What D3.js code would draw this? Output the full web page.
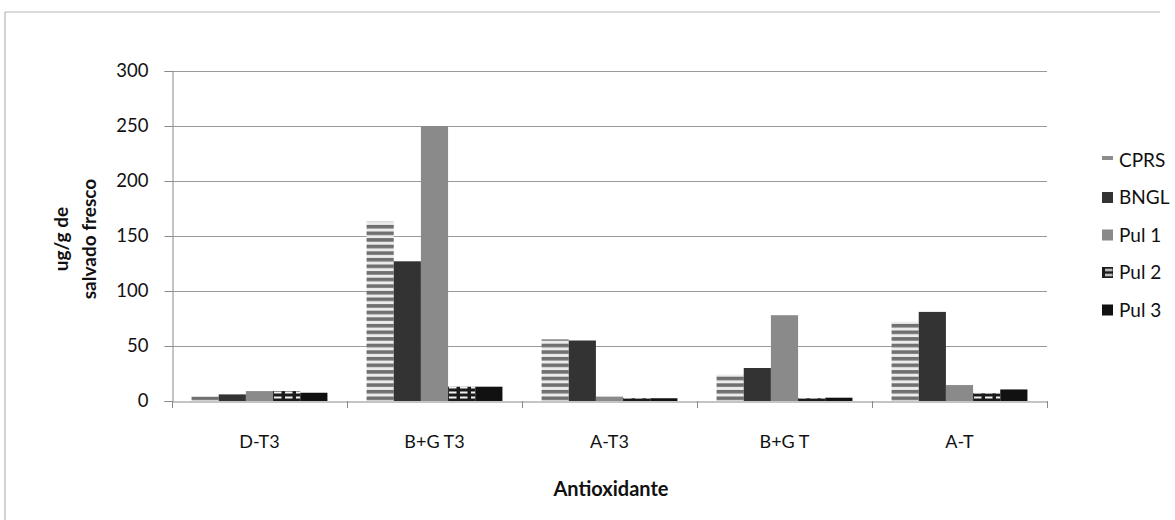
<!DOCTYPE html>
<html>
<head>
<meta charset="utf-8">
<script src="https://cdn.jsdelivr.net/npm/d3@7"></script>
<style>
  html, body { margin: 0; padding: 0; background: #fff; }
  svg { display: block; }
  text { font-family: Lato, "Open Sans", sans-serif; fill: #111; }
</style>
</head>
<body>
<svg id="chart" width="1175" height="520"></svg>
<script>
// Antioxidant content per bran sample (ug/g of fresh bran)
const categories = ["D-T3", "B+G T3", "A-T3", "B+G T", "A-T"];
const series = ["CPRS", "BNGL", "Pul 1", "Pul 2", "Pul 3"];
const CPRS  = [4, 163, 56, 24, 72];
const BNGL  = [6, 127, 55, 30, 81];
const Pul1  = [9, 250, 4, 78, 14.5];
const Pul2  = [9, 13, 2.5, 2.5, 7];
const Pul3  = [7.5, 13, 2.5, 3, 10.5];
const yTicks = [0, 50, 100, 150, 200, 250, 300];

const values = [CPRS, BNGL, Pul1, Pul2, Pul3];

const svg = d3.select("#chart");
const margin = { left: 172, right: 1047, top: 71, bottom: 401 };

// Fills: striped, dark, mid-grey, small grid, black
const defs = svg.append("defs");
const stripes = defs.append("pattern").attr("id", "fill-cprs")
  .attr("patternUnits", "userSpaceOnUse").attr("width", 8).attr("height", 6.6)
  .attr("y", 0.5);
stripes.append("rect").attr("width", 8).attr("height", 6.6).attr("fill", "#ececec");
stripes.append("rect").attr("width", 8).attr("height", 3.6).attr("fill", "#707070");

const grid = defs.append("pattern").attr("id", "fill-pul2")
  .attr("patternUnits", "userSpaceOnUse").attr("width", 11).attr("height", 5)
  .attr("x", 1);
grid.append("rect").attr("width", 11).attr("height", 5).attr("fill", "#1a1a1a");
grid.append("rect").attr("x", 2).attr("y", 1.5).attr("width", 7.5).attr("height", 2).attr("fill", "#f2f2f2");

const fills = ["url(#fill-cprs)", "#333333", "#8a8a8a", "url(#fill-pul2)", "#111111"];
const legendFills = ["#8c8c8c", "#333333", "#8a8a8a", "url(#fill-pul2)", "#111111"];

// Outer frame (top and left edges)
svg.append("line").attr("x1", 5).attr("x2", 1160).attr("y1", 12).attr("y2", 12)
  .attr("stroke", "#b5b5b5").attr("stroke-width", 1.2);
svg.append("line").attr("x1", 5).attr("x2", 5).attr("y1", 12).attr("y2", 520)
  .attr("stroke", "#b5b5b5").attr("stroke-width", 1.2);

const x0 = d3.scaleBand().domain(categories).range([margin.left, margin.right])
  .paddingInner(0).paddingOuter(0);
const x1 = d3.scaleBand().domain(series).range([0, x0.bandwidth()])
  .paddingInner(0).paddingOuter(0.72);
const y = d3.scaleLinear().domain([0, 300]).range([margin.bottom, margin.top]);

// Horizontal gridlines
svg.append("g").selectAll("line").data(yTicks.filter(d => d > 0)).join("line")
  .attr("x1", margin.left).attr("x2", margin.right)
  .attr("y1", d => Math.round(y(d)) + 0.5).attr("y2", d => Math.round(y(d)) + 0.5)
  .attr("stroke", "#9a9a9a").attr("stroke-width", 1);

// Bars
const groups = svg.append("g").selectAll("g").data(categories).join("g")
  .attr("transform", d => `translate(${x0(d)},0)`);
groups.selectAll("rect")
  .data((c, i) => series.map((s, j) => ({ s, j, v: values[j][i] })))
  .join("rect")
  .attr("x", d => x1(d.s))
  .attr("width", x1.bandwidth())
  .attr("y", d => y(d.v))
  .attr("height", d => y(0) - y(d.v))
  .attr("fill", d => fills[d.j]);

// Y axis
const yAxis = d3.axisLeft(y).tickValues(yTicks).tickSize(8).tickPadding(16);
const gy = svg.append("g").attr("transform", `translate(${margin.left + 0.5},0)`).call(yAxis);
gy.select(".domain").attr("stroke", "#8a8a8a");
gy.selectAll(".tick line").attr("stroke", "#8a8a8a");
gy.selectAll(".tick text").style("font-size", "18.5px").attr("fill", "#1a1a1a");

// X axis
const xAxis = d3.axisBottom(x0).tickSize(0).tickPadding(34);
const gx = svg.append("g").attr("transform", `translate(0,${margin.bottom + 0.5})`).call(xAxis);
gx.select(".domain").attr("stroke", "#8a8a8a");
gx.selectAll(".tick text").style("font-size", "18px").attr("fill", "#1a1a1a");
// category boundary ticks
svg.append("g").selectAll("line")
  .data(categories.map(c => x0(c)).concat([x0(categories[categories.length - 1]) + x0.bandwidth()]))
  .join("line")
  .attr("x1", d => Math.round(d) + 0.5).attr("x2", d => Math.round(d) + 0.5)
  .attr("y1", margin.bottom).attr("y2", margin.bottom + 7)
  .attr("stroke", "#8a8a8a");

// Axis titles
const yTitle = svg.append("text")
  .attr("transform", "translate(76,239) rotate(-90)")
  .attr("text-anchor", "middle")
  .style("font-size", "19px").style("font-weight", "bold");
yTitle.append("tspan").attr("x", 0).attr("dy", -8).text("ug/g de");
yTitle.append("tspan").attr("x", 0).attr("dy", 28).text("salvado fresco");

svg.append("text").attr("x", 611).attr("y", 496).attr("text-anchor", "middle")
  .style("font-size", "20px").style("font-weight", "bold").text("Antioxidante");

// Legend
const legend = svg.append("g").selectAll("g").data(series).join("g")
  .attr("transform", (d, i) => `translate(1102,${160 + i * 37.5})`);
legend.append("rect").attr("x", 0).attr("y", d => d === "CPRS" ? -4 : -5.5)
  .attr("width", 11).attr("height", d => d === "CPRS" ? 4 : 11)
  .attr("fill", (d, i) => legendFills[i]);
legend.append("text").attr("x", 17).attr("y", 0).attr("dy", "0.36em")
  .style("font-size", "19px").attr("fill", "#1a1a1a").text(d => d);
</script>
</body>
</html>
